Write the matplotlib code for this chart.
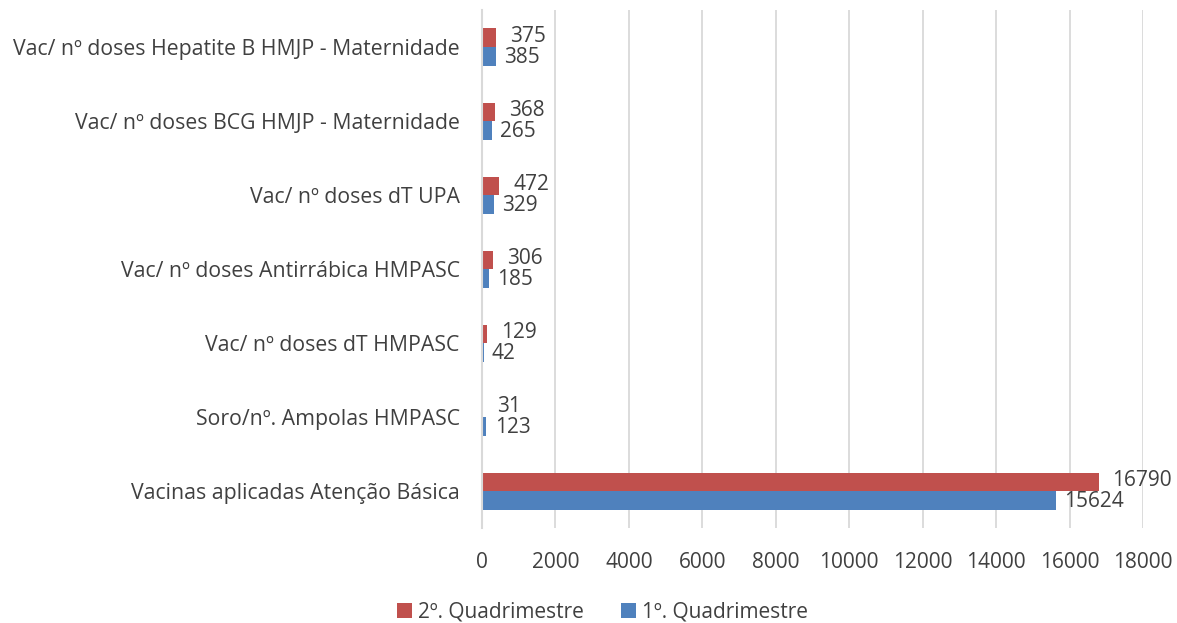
import matplotlib
matplotlib.use('Agg')
import matplotlib.pyplot as plt
import numpy as np

# data (bottom to top)
categories = ['Vacinas aplicadas Atenção Básica',
              'Soro/nº. Ampolas HMPASC',
              'Vac/ nº doses dT HMPASC',
              'Vac/ nº doses Antirrábica HMPASC',
              'Vac/ nº doses dT UPA',
              'Vac/ nº doses BCG HMJP - Maternidade',
              'Vac/ nº doses Hepatite B HMJP - Maternidade']
q1 = [15624, 123, 42, 185, 329, 265, 385]
q2 = [16790, 31, 129, 306, 472, 368, 375]
xticks = list(range(0, 18001, 2000))

plt.rcParams['font.family'] = ['Open Sans', 'DejaVu Sans']
txt = '#404040'

fig = plt.figure(figsize=(11.77, 6.23), dpi=100)
ax = fig.add_axes([0.4095, 0.152, 0.5617, 0.832])

y = np.arange(len(categories))
h = 0.25
ax.barh(y + h / 2, q2, height=h, color='#c0504d', label='2º. Quadrimestre')
ax.barh(y - h / 2, q1, height=h, color='#4f81bd', label='1º. Quadrimestre')

for yi, v in zip(y, q2):
    ax.annotate(str(v), (v, yi + h / 2), xytext=(10, 1), textcoords='offset points',
                va='center', ha='left', fontsize=15, color=txt)
for yi, v in zip(y, q1):
    ax.annotate(str(v), (v, yi - h / 2), xytext=(6, -1), textcoords='offset points',
                va='center', ha='left', fontsize=15, color=txt)

ax.set_xlim(0, 18000)
ax.set_ylim(-0.5, len(categories) - 0.5)
ax.set_xticks(xticks)
ax.set_yticks(y)
ax.set_yticklabels(categories)
ax.tick_params(axis='y', length=0, labelsize=15.3, colors=txt, pad=16)
ax.tick_params(axis='x', length=0, labelsize=15, colors=txt, pad=17)
ax.grid(axis='x', color='#d9d9d9', linewidth=1.3)
ax.set_axisbelow(True)
for s in ['top', 'right', 'bottom']:
    ax.spines[s].set_visible(False)
ax.spines['left'].set_color('#d9d9d9')
ax.spines['left'].set_linewidth(1.5)

fig.legend(loc='lower center', bbox_to_anchor=(0.512, -0.03), ncol=2, frameon=False,
           fontsize=15, labelcolor=txt, handlelength=0.7, handleheight=0.7,
           handletextpad=0.3, columnspacing=1.8)

plt.savefig('out.png', dpi=100)
